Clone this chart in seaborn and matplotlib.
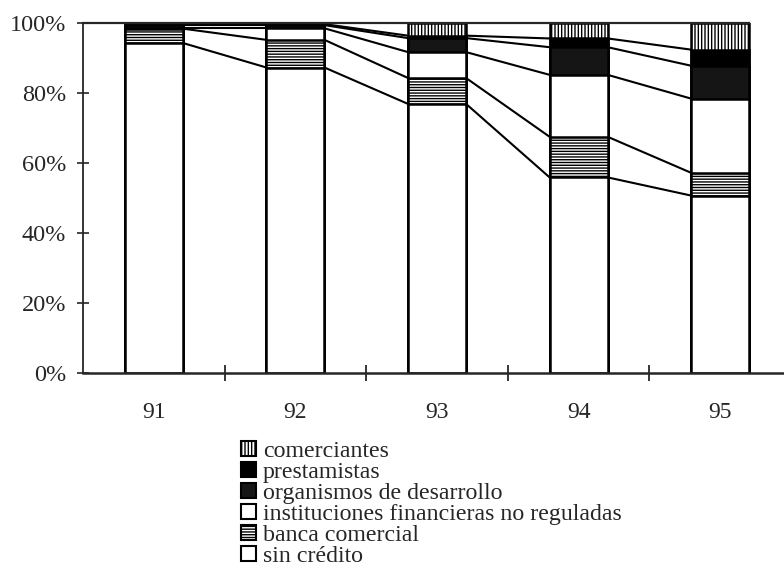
import matplotlib
matplotlib.use("Agg")
import matplotlib.pyplot as plt
import matplotlib.patches as mpatches
import numpy as np
import pandas as pd
import seaborn as sns

# shares of households by credit source, per year (percent)
years = ["91", "92", "93", "94", "95"]
sin_credito = [94.2, 87.2, 76.8, 55.8, 50.6]
banca_comercial = [4.1, 7.9, 7.4, 11.6, 6.5]
instituciones = [0.1, 3.3, 7.4, 17.7, 21.2]
organismos = [0.9, 0.9, 4.0, 7.9, 9.4]
prestamistas = [0.7, 0.3, 0.7, 2.5, 4.6]
comerciantes = [0.0, 0.4, 3.7, 4.5, 7.7]

labels = ["sin crédito", "banca comercial",
          "instituciones financieras no reguladas",
          "organismos de desarrollo", "prestamistas", "comerciantes"]
y_ticks = [0, 20, 40, 60, 80, 100]

# fill / hatch per layer, bottom to top
faces = ["white", "white", "white", "#151515", "black", "white"]
hatches = [None, "------", None, None, None, "|||||"]

sns.set_style("ticks")
plt.rcParams["font.family"] = ["Liberation Serif", "DejaVu Serif"]
plt.rcParams["hatch.linewidth"] = 1.0
plt.rcParams["hatch.color"] = "black"

fig = plt.figure(figsize=(7.84, 5.68), dpi=100)
ax = fig.add_axes([83 / 784, 1 - 372.7 / 568, (784 - 83) / 784, 350 / 568])

layers = np.array([sin_credito, banca_comercial, instituciones,
                   organismos, prestamistas, comerciantes])
cum = np.cumsum(layers, axis=0)
w = 0.41

# stacked bars by overdrawing cumulative totals from the top layer down
for k in reversed(range(len(layers))):
    df = pd.DataFrame({"year": years, "value": cum[k]})
    sns.barplot(data=df, x="year", y="value", ax=ax, color=faces[k],
                saturation=1, hatch=hatches[k], edgecolor="black",
                linewidth=1.8, width=w, errorbar=None)

# series lines joining the layer boundaries between bars
for k in range(len(layers) - 1):
    for i in range(len(years) - 1):
        ax.plot([i + w / 2, i + 1 - w / 2], [cum[k][i], cum[k][i + 1]],
                color="black", lw=1.5, solid_capstyle="butt")

ax.set_xlim(-0.5, 4.45)
ax.set_ylim(0, 100)
ax.set_xlabel("")
ax.set_ylabel("")

ax.set_xticks(range(len(years)))
ax.set_xticklabels(years)
ax.set_xticks([0.5, 1.5, 2.5, 3.5], minor=True)
ax.tick_params(axis="x", which="major", length=0, pad=21, labelsize=17)
ax.tick_params(axis="x", which="minor", direction="inout", length=12, width=1.3)

ax.set_yticks(y_ticks)
ax.set_yticklabels([f"{v}%" for v in y_ticks])
ax.tick_params(axis="y", direction="inout", length=8, width=1.2, pad=8,
               labelsize=17.5)

ax.spines["right"].set_visible(False)
ax.spines["top"].set_bounds(-0.5, len(years) - 1 + w / 2)
ax.spines["top"].set_linewidth(1.6)
ax.spines["left"].set_linewidth(1.3)
ax.spines["bottom"].set_linewidth(1.8)

handles = [mpatches.Patch(facecolor=faces[k], hatch=hatches[k],
                          edgecolor="black", linewidth=1.5, label=labels[k])
           for k in reversed(range(len(layers)))]
fig.legend(handles=handles, loc="upper left", bbox_to_anchor=(0.308, 0.224),
           frameon=False, fontsize=17.2, handlelength=0.6, handleheight=0.6,
           handletextpad=0.3, labelspacing=0.0, borderpad=0,
           borderaxespad=0)

fig.savefig("out.png", dpi=100)
